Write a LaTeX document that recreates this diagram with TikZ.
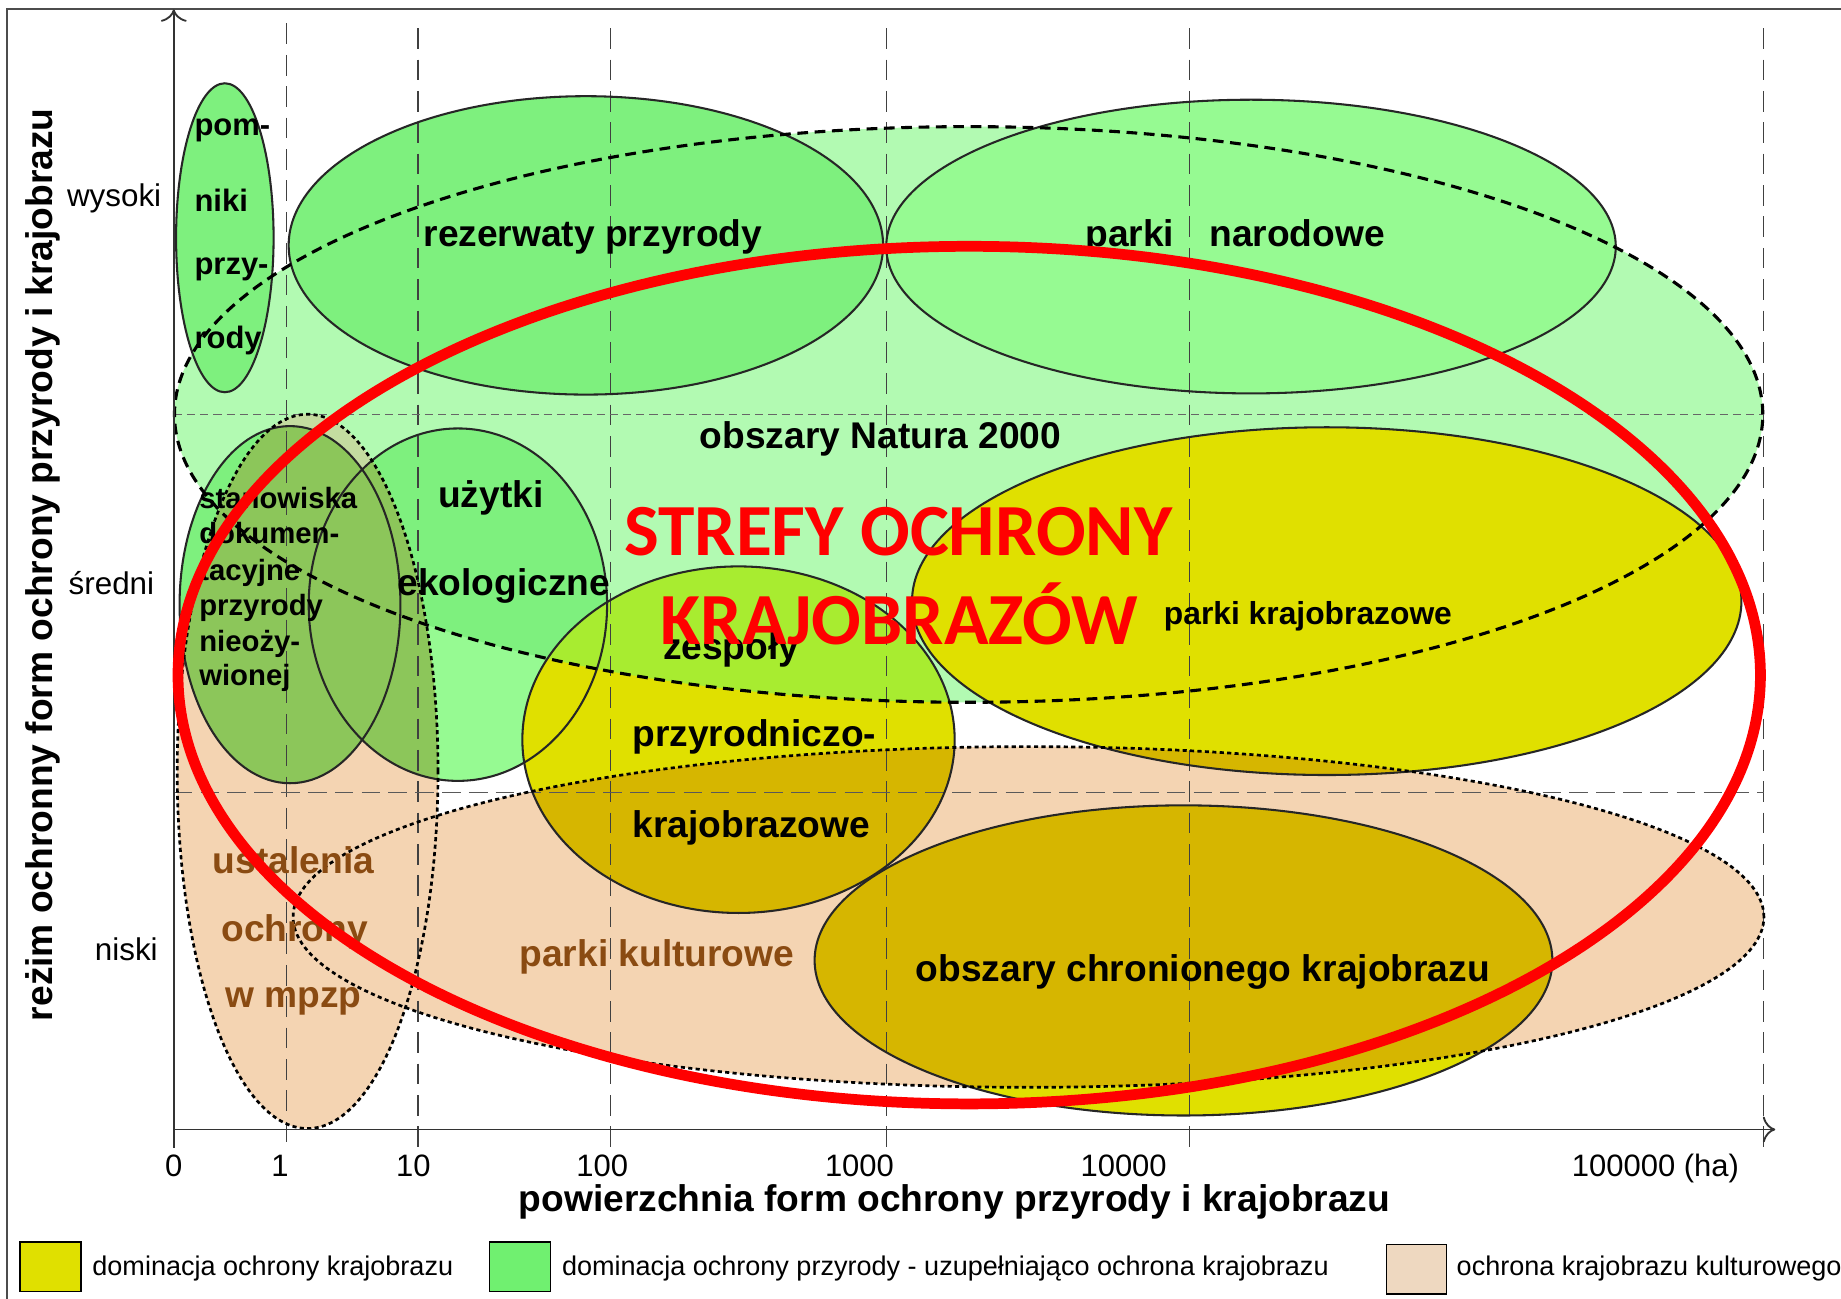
\documentclass[tikz,border=0pt]{standalone}
\usepackage{fontspec}
\setmainfont{Liberation Sans}
\newfontfamily\redfont{Carlito}
\usetikzlibrary{arrows.meta}
\definecolor{natL}{HTML}{B2FAB2}
\definecolor{grnD}{HTML}{7EF07E}
\definecolor{grnL}{HTML}{96FA92}
\definecolor{yel}{HTML}{E0E000}
\definecolor{lime}{HTML}{A8EC30}
\definecolor{gold}{HTML}{D6B600}
\definecolor{tanC}{HTML}{F4D4B2}
\definecolor{olive}{HTML}{8CC65A}
\definecolor{oliveL}{HTML}{C4DCA0}
\definecolor{brn}{HTML}{8A4B12}
\definecolor{legG}{HTML}{70F070}
\definecolor{legT}{HTML}{EED8C0}
\begin{document}
\begin{tikzpicture}[x=0.01cm,y=-0.01cm,
  gridv/.style={draw=black!75, line width=0.4pt, dash pattern=on 5pt off 2.6pt},
  gridh/.style={draw=black!60, line width=0.4pt, dash pattern=on 2pt off 1.2pt},
  gridhb/.style={draw=black!65, line width=0.4pt, dash pattern=on 4.5pt off 2pt},
  solidline/.style={draw=black!85, line width=0.5pt},
  natline/.style={draw=black, line width=0.75pt, dash pattern=on 2.6pt off 1.6pt},
  tanline/.style={draw=black, line width=0.65pt, dash pattern=on 1pt off 0.8pt},
  lbl/.style={font=\fontsize{9}{10}\selectfont\bfseries, inner sep=0pt, anchor=base},
  lblw/.style={lbl, anchor=base west},
  lblsm/.style={font=\fontsize{7.5}{8}\selectfont\bfseries, inner sep=0pt, anchor=base west},
  lbltn/.style={font=\fontsize{7.1}{8}\selectfont\bfseries, inner sep=0pt, anchor=base west},
  ticklbl/.style={font=\fontsize{7.5}{8}\selectfont, inner sep=0pt, anchor=base},
  ylab/.style={font=\fontsize{7.6}{8}\selectfont, inner sep=0pt, anchor=base east},
  leg/.style={font=\fontsize{6.55}{7}\selectfont, inner sep=0pt, anchor=base west},
  legbox/.style={draw=black, line width=0.4pt},
  redtxt/.style={font=\redfont\fontsize{17.8}{20}\selectfont\bfseries, text=red, inner sep=0pt, anchor=base},
]
\useasboundingbox (0,0) rectangle (1568,1106);
\fill[white] (0,0) rectangle (1568,1106);

% ---------- fills ----------
% Natura 2000
\fill[natL] (825,353) ellipse [x radius=6.76cm, y radius=2.45cm];
% green forms
\fill[grnL] (1065.5,210) ellipse [x radius=3.105cm, y radius=1.25cm];
\fill[grnD] (499,209) ellipse [x radius=2.53cm, y radius=1.27cm];
\fill[grnD] (191.5,202.5) ellipse [x radius=0.415cm, y radius=1.315cm];
\fill[grnL] (390,515) ellipse [x radius=1.27cm, y radius=1.5cm];
\begin{scope}
  \clip (825,353) ellipse [x radius=6.76cm, y radius=2.45cm];
  \fill[grnD] (390,515) ellipse [x radius=1.27cm, y radius=1.5cm];
\end{scope}
\fill[grnD] (247,515) ellipse [x radius=0.94cm, y radius=1.52cm];
% yellow forms
\fill[yel] (1130,512) ellipse [x radius=3.53cm, y radius=1.48cm];
\fill[yel] (629,630) ellipse [x radius=1.84cm, y radius=1.475cm];
\begin{scope}
  \clip (825,353) ellipse [x radius=6.76cm, y radius=2.45cm];
  \fill[lime] (629,630) ellipse [x radius=1.84cm, y radius=1.475cm];
\end{scope}
\fill[yel] (1008,818) ellipse [x radius=3.14cm, y radius=1.32cm];
% cultural forms
\fill[tanC] (876,781) ellipse [x radius=6.26cm, y radius=1.45cm];
\fill[tanC] (262,657) ellipse [x radius=1.11cm, y radius=3.04cm];
\begin{scope}
  \clip (876,781) ellipse [x radius=6.26cm, y radius=1.45cm];
  \fill[gold] (629,630) ellipse [x radius=1.84cm, y radius=1.475cm];
  \fill[gold] (1008,818) ellipse [x radius=3.14cm, y radius=1.32cm];
  \fill[gold] (1130,512) ellipse [x radius=3.53cm, y radius=1.48cm];
\end{scope}
\begin{scope}
  \clip (262,657) ellipse [x radius=1.11cm, y radius=3.04cm];
  \fill[oliveL] (825,353) ellipse [x radius=6.76cm, y radius=2.45cm];
  \fill[olive] (390,515) ellipse [x radius=1.27cm, y radius=1.5cm];
  \fill[olive] (247,515) ellipse [x radius=0.94cm, y radius=1.52cm];
\end{scope}

% ---------- grid ----------
\coordinate (g1t) at (244,20);   \coordinate (g1b) at (244,978);
\coordinate (g2t) at (356,24);   \coordinate (g2b) at (356,978);
\coordinate (g3t) at (520,24);   \coordinate (g3b) at (520,978);
\coordinate (g4t) at (755,24);   \coordinate (g4b) at (755,978);
\coordinate (g5t) at (1013,24);  \coordinate (g5b) at (1013,978);
\coordinate (g6t) at (1502,24);  \coordinate (g6b) at (1502,978);
\draw[gridv] (g1t) -- (g1b);
\draw[gridv] (g2t) -- (g2b);
\draw[gridv] (g3t) -- (g3b);
\draw[gridv] (g4t) -- (g4b);
\draw[gridv] (g5t) -- (g5b);
\draw[gridv] (g6t) -- (g6b);
\coordinate (h1l) at (148,353); \coordinate (h1r) at (1502,353);
\coordinate (h2l) at (148,675); \coordinate (h2r) at (1502,675);
\draw[gridh] (h1l) -- (h1r);
\draw[gridhb] (h2l) -- (h2r);

% ---------- outlines ----------
\draw[solidline] (1065.5,210) ellipse [x radius=3.105cm, y radius=1.25cm];
\draw[solidline] (499,209) ellipse [x radius=2.53cm, y radius=1.27cm];
\draw[solidline] (191.5,202.5) ellipse [x radius=0.415cm, y radius=1.315cm];
\draw[solidline] (390,515) ellipse [x radius=1.27cm, y radius=1.5cm];
\draw[solidline] (247,515) ellipse [x radius=0.94cm, y radius=1.52cm];
\draw[solidline] (1130,512) ellipse [x radius=3.53cm, y radius=1.48cm];
\draw[solidline] (629,630) ellipse [x radius=1.84cm, y radius=1.475cm];
\draw[solidline] (1008,818) ellipse [x radius=3.14cm, y radius=1.32cm];
\draw[natline] (825,353) ellipse [x radius=6.76cm, y radius=2.45cm];
\draw[tanline] (876,781) ellipse [x radius=6.26cm, y radius=1.45cm];
\draw[tanline] (262,657) ellipse [x radius=1.11cm, y radius=3.04cm];

% ---------- frame and axes ----------
\coordinate (fbl) at (6,1106); \coordinate (ftl) at (6,8); \coordinate (ftr) at (1568,8);
\draw[black!70, line width=0.5pt] (fbl) -- (ftl) -- (ftr);
\coordinate (O) at (148,962);
\coordinate (Ytop) at (148,8);
\coordinate (Xend) at (1512,962);
\coordinate (Otick) at (148,978);
\draw[black!80, line width=0.45pt, -{To[length=3pt]}] (O) -- (Ytop);
\draw[black!80, line width=0.45pt, -{To[length=3pt]}] (O) -- (Xend);
\draw[black!80, line width=0.45pt] (O) -- (Otick);

% ---------- axis labels ----------
\node[ticklbl] (t0) at (148,1002) {0};
\node[ticklbl] (t1) at (238.5,1002) {1};
\node[ticklbl] (t10) at (352,1002) {10};
\node[ticklbl] (t100) at (513,1002) {100};
\node[ticklbl] (t1000) at (732,1002) {1000};
\node[ticklbl] (t10000) at (957,1002) {10000};
\node[ticklbl] (t100000) at (1410,1002) {100000 (ha)};
\node[ylab] (yw) at (138,176) {wysoki};
\node[ylab] (ys) at (132,506) {średni};
\node[ylab] (yn) at (135,818) {niski};
\node[lbl] (xtitle) at (813,1032) {powierzchnia form ochrony przyrody i krajobrazu};
\node[lbl, rotate=90] (ytitle) at (45,481) {reżim ochronny form ochrony przyrody i krajobrazu};

% ---------- form labels ----------
\node[lblsm] (pom1) at (165,115) {pom-};
\node[lblsm] (pom2) at (165,180) {niki};
\node[lblsm] (pom3) at (165,234) {przy-};
\node[lblsm] (pom4) at (165,297) {rody};
\node[lbl] (rez) at (505,210) {rezerwaty przyrody};
\node[lbl] (pn) at (1052,210) {parki\hspace{0.30cm}narodowe};
\node[lbl] (nat) at (750,382) {obszary Natura 2000};
\node[lbl] (uz1) at (418,432) {użytki};
\node[lbl] (uz2) at (429,507) {ekologiczne};
\node[lbltn] (st1) at (169,433) {stanowiska};
\node[lbltn] (st2) at (169,463) {dokumen-};
\node[lbltn] (st3) at (169,494) {tacyjne};
\node[lbltn] (st4) at (169,524) {przyrody};
\node[lbltn] (st5) at (169,555) {nieoży-};
\node[lbltn] (st6) at (169,584) {wionej};
\node[lblw] (zp1) at (564,562) {zespoły};
\node[lblw] (zp2) at (538,636) {przyrodniczo-};
\node[lblw] (zp3) at (538,713) {krajobrazowe};
\node[font=\fontsize{7.7}{8}\selectfont\bfseries, inner sep=0pt, anchor=base] (pk) at (1114,532) {parki krajobrazowe};
\node[lbl] (ock) at (1024.5,836) {obszary chronionego krajobrazu};
\node[lbl, text=brn] (kul) at (559.5,823) {parki kulturowe};
\node[lbl, text=brn] (us1) at (250,744) {ustalenia};
\node[lbl, text=brn] (us2) at (251,802) {ochrony};
\node[lbl, text=brn] (us3) at (250,858) {w mpzp};

% ---------- red zone ----------
\draw[red, line width=2.6pt] (825.5,575) ellipse [x radius=6.735cm, y radius=3.65cm];
\node[redtxt] (sz1) at (765,473) {STREFY OCHRONY};
\node[redtxt] (sz2) at (766,549) {KRAJOBRAZÓW};

% ---------- legend ----------
\fill[yel] (17,1058) rectangle (69,1100);
\draw[legbox] (17,1058) rectangle (69,1100);
\fill[legG] (417,1058) rectangle (469,1100);
\draw[legbox] (417,1058) rectangle (469,1100);
\fill[legT] (1181,1060) rectangle (1232,1102);
\draw[legbox] (1181,1060) rectangle (1232,1102);
\node[leg] (l1) at (78,1086) {dominacja ochrony krajobrazu};
\node[leg] (l2) at (478,1086) {dominacja ochrony przyrody - uzupełniająco ochrona krajobrazu};
\node[leg] (l3) at (1240,1086) {ochrona krajobrazu kulturowego};
\end{tikzpicture}
\end{document}
